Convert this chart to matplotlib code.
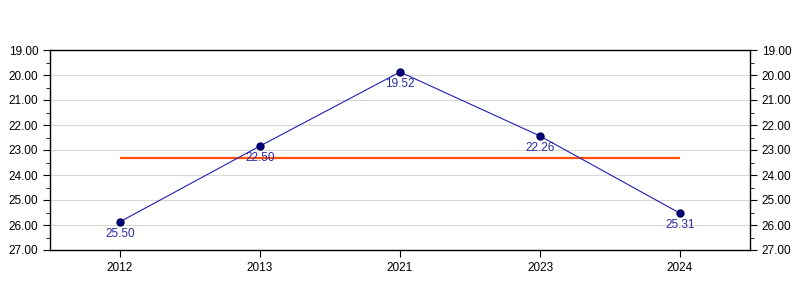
import matplotlib
matplotlib.use("Agg")
import matplotlib.pyplot as plt
from matplotlib.ticker import MultipleLocator, FormatStrFormatter

plt.rcParams['font.family'] = ['Liberation Sans', 'DejaVu Sans']

# 데이터
years = ["2012", "2013", "2021", "2023", "2024"]
values = [25.87, 22.84, 19.88, 22.44, 25.53]
point_labels = ["25.50", "22.50", "19.52", "22.26", "25.31"]
average = 23.32

fig = plt.figure(figsize=(8, 3), dpi=100)
ax = fig.add_axes([50 / 800, 50 / 300, 700 / 800, 200 / 300])

x = list(range(len(years)))

ax.hlines(average, x[0], x[-1], color="#ff5010", linewidth=1.6, zorder=2)
ax.plot(x, values, color="#2020b0", linewidth=0.8, zorder=3)
ax.plot(x, values, linestyle="none", marker="o", markersize=5,
        markerfacecolor="#000080", markeredgecolor="#000050", zorder=4)

for xi, v, lab in zip(x, values, point_labels):
    ax.annotate(lab, (xi, v), xytext=(0, -4.5), textcoords="offset points",
                ha="center", va="top", fontsize=8.5, color="#2a2aa0", zorder=5)

ax.set_xlim(-0.5, len(years) - 0.5)
ax.set_ylim(27, 19)
ax.set_xticks(x)
ax.set_xticklabels(years)

ax.yaxis.set_major_locator(MultipleLocator(1))
ax.yaxis.set_minor_locator(MultipleLocator(0.5))
ax.yaxis.set_major_formatter(FormatStrFormatter("%.2f"))
ax.tick_params(axis="y", which="both", left=True, right=True,
               labelleft=True, labelright=True, labelsize=8.5, direction="out")
ax.tick_params(axis="y", which="major", length=5)
ax.tick_params(axis="y", which="minor", length=3)
ax.tick_params(axis="x", labelsize=8.5, length=5, direction="out")

ax.grid(axis="y", which="major", color="#d8d8d8", linewidth=0.8, zorder=0)
ax.set_axisbelow(True)

for s in ax.spines.values():
    s.set_color("black")
    s.set_linewidth(1)

fig.savefig("out.png", dpi=100)
